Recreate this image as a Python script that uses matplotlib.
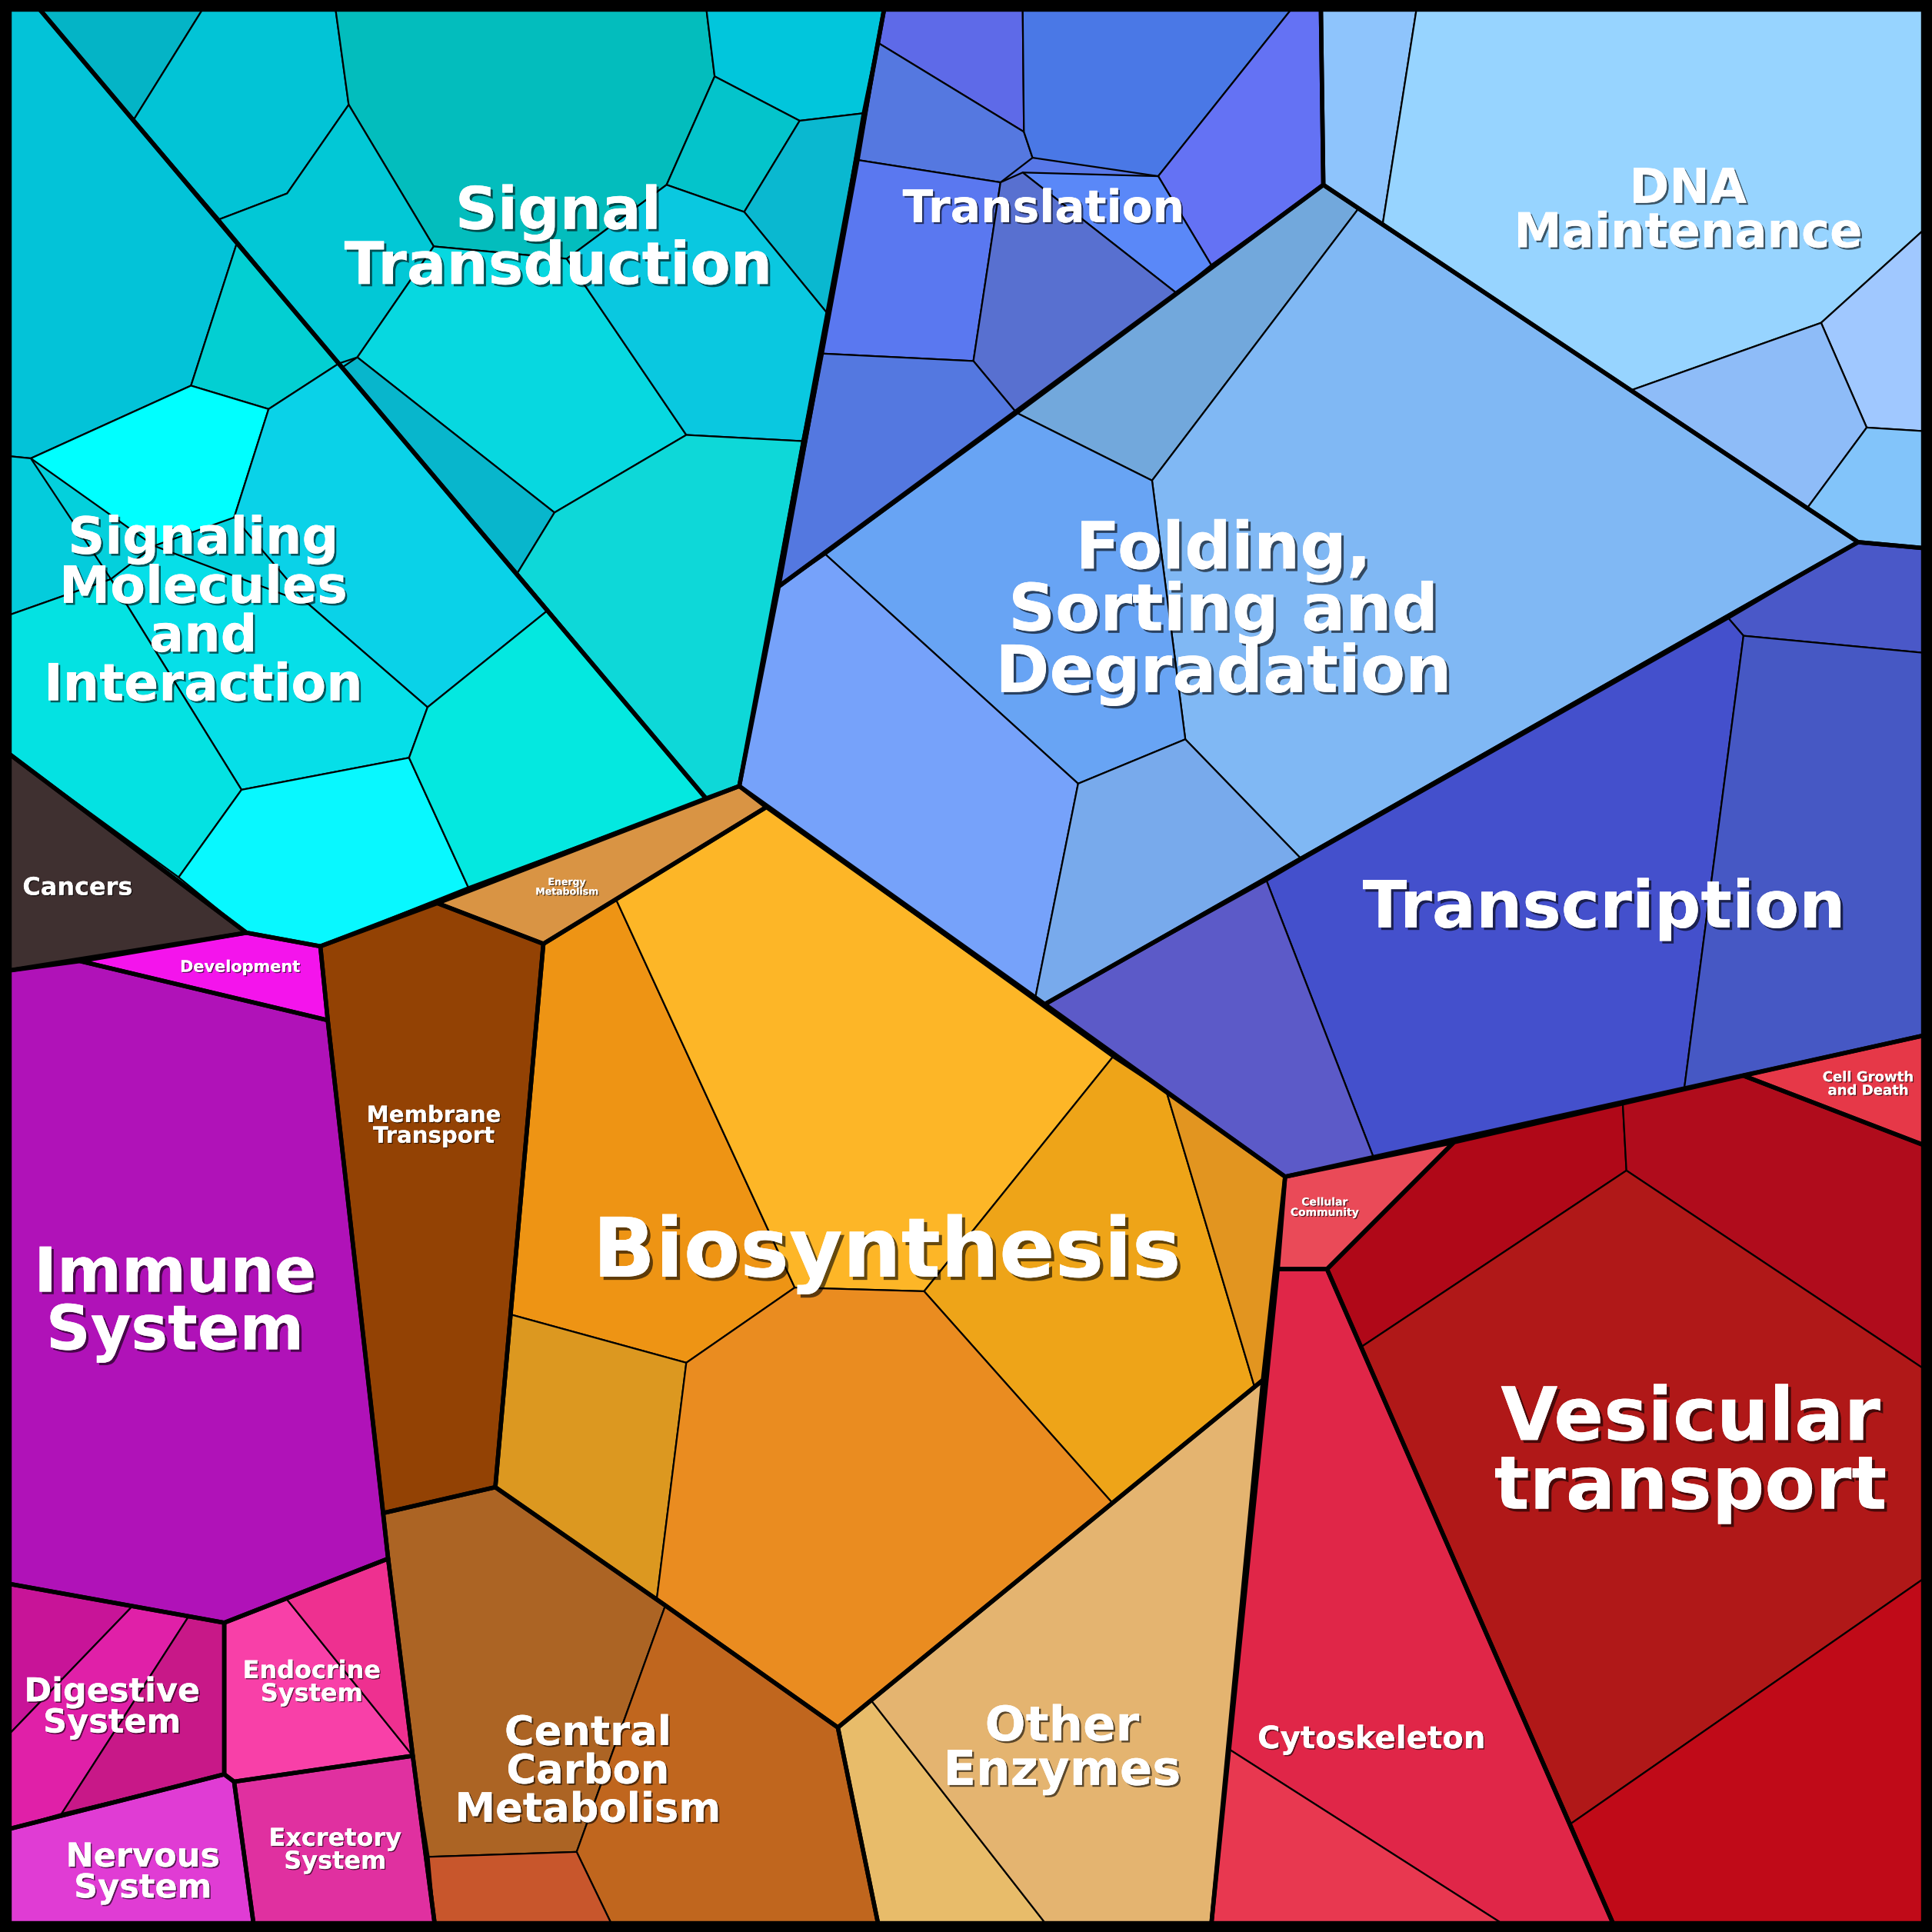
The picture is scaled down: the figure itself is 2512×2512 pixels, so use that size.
import matplotlib
matplotlib.use("Agg")
import matplotlib.pyplot as plt
from matplotlib.patches import Polygon
import matplotlib.patheffects as pe

# ---- data: top-level regions (category, polygon in picture units) ----
categories = ["Signaling\nMolecules\nand\nInteraction", "Signal\nTransduction", "Translation",
              "DNA\nMaintenance", "Folding,\nSorting and\nDegradation", "Transcription",
              "Energy\nMetabolism", "Membrane\nTransport", "Biosynthesis", "Other\nEnzymes",
              "Central\nCarbon\nMetabolism", "Cancers", "Development", "Immune\nSystem",
              "Digestive\nSystem", "Endocrine\nSystem", "Nervous\nSystem", "Excretory\nSystem",
              "Cell Growth\nand Death", "Cellular\nCommunity", "Vesicular\ntransport", "Cytoskeleton"]
region_polys = [
    [(5,5),(30,5),(573,648),(260,768),(200,757),(5,610)],
    [(30,5),(718,5),(600,638),(573,648)],
    [(718,5),(1072,5),(1074,150),(825,335),(632,476)],
    [(1072,5),(1563,5),(1563,445),(1508,440),(1074,150)],
    [(1074,150),(1508,440),(848,815),(600,638),(632,476)],
    [(1508,440),(1563,445),(1563,840),(1043,955),(848,815)],
    [(355,733),(600,638),(622,655),(441,766)],
    [(260,768),(355,733),(441,766),(402,1207),(311,1228),(266,828)],
    [(441,766),(622,655),(1043,955),(1025,1120),(680,1402),(540,1303),(402,1207)],
    [(1025,1120),(983,1563),(713,1563),(680,1402)],
    [(311,1228),(402,1207),(540,1303),(680,1402),(713,1563),(353,1563),(335,1425),(315,1265)],
    [(5,610),(200,757),(5,788)],
    [(65,780),(200,757),(260,768),(266,828)],
    [(5,788),(65,780),(266,828),(315,1265),(182,1317),(5,1285)],
    [(5,1285),(182,1317),(182,1440),(5,1485)],
    [(182,1317),(315,1265),(335,1425),(190,1446),(182,1440)],
    [(5,1485),(182,1440),(190,1446),(206,1563),(5,1563)],
    [(190,1446),(335,1425),(353,1563),(206,1563)],
    [(1415,873),(1563,840),(1563,930)],
    [(1043,955),(1180,927),(1077,1030),(1037,1030)],
    [(1180,927),(1415,873),(1563,930),(1563,1563),(1310,1563),(1077,1030)],
    [(1037,1030),(1077,1030),(1310,1563),(983,1563)],
]
region_colors = ["#04d0dc","#04c8d8","#5878e8","#97d4ff","#78b0f4","#4652c8",
                 "#d99444","#934204","#f0a020","#e4b470","#b06424","#3f3030","#f414ec","#b012b8",
                 "#d81a98","#f03ca0","#e03cd4","#e030a0","#e63848","#ea4a58","#b01818","#e02648"]
label_xy = [(165,497),(453,195),(847,170),(1370,172),(993,497),(1302,738),
            (460,720),(352,914),(720,1018),(862,1420),(477,1438),(63,721),(195,785),(142,1058),
            (91,1386),(253,1366),(116,1520),(272,1502),(1516,880),(1075,980),(1372,1180),(1113,1412)]
label_sizes = [48,55,42,45,61,61,9,21,77,45,38,23,15,58,31,23,31,23,13,10,69,29]

# sub-cells (polygon, colour)
sub_polys = [
    [(30,5),(166,5),(108,98)],
    [(166,5),(272,5),(283,85),(233,157),(178,178),(108,98)],
    [(272,5),(573,5),(580,62),(541,150),(460,210),(352,200),(283,85)],
    [(573,5),(718,5),(700,92),(649,98),(580,62)],
    [(580,62),(649,98),(604,172),(541,150)],
    [(649,98),(700,92),(672,255),(604,172)],
    [(178,178),(233,157),(283,85),(352,200),(290,290),(275,295)],
    [(352,200),(460,210),(557,353),(450,416),(290,290)],
    [(460,210),(541,150),(604,172),(672,255),(651,358),(557,353)],
    [(290,290),(450,416),(420,465),(278,298)],
    [(450,416),(557,353),(651,358),(600,638),(573,648),(420,465)],
    [(5,5),(30,5),(178,178),(192,198),(155,313),(25,372),(5,370)],
    [(192,198),(275,295),(218,332),(155,313)],
    [(155,313),(218,332),(190,420),(125,443),(25,372)],
    [(5,370),(25,372),(90,470),(5,500)],
    [(218,332),(275,295),(445,495),(347,574),(250,490),(190,420)],
    [(90,470),(125,443),(250,490),(347,574),(332,615),(196,641)],
    [(5,500),(90,470),(196,641),(145,712),(5,610)],
    [(196,641),(332,615),(380,720),(260,768),(200,757),(145,712)],
    [(347,574),(445,495),(573,648),(380,720),(332,615)],
    [(718,5),(830,5),(831,107),(713,35)],
    [(713,35),(831,107),(838,128),(812,148),(697,130)],
    [(830,5),(1050,5),(940,143),(838,128),(831,107)],
    [(1050,5),(1072,5),(1074,150),(983,215),(940,143)],
    [(697,130),(812,148),(790,293),(668,287)],
    [(830,140),(940,143),(983,215),(955,238)],
    [(812,148),(830,140),(955,238),(825,335),(790,293)],
    [(668,287),(790,293),(825,335),(632,476)],
    [(1072,5),(1150,5),(1122,183),(1074,150)],
    [(1150,5),(1563,5),(1563,185),(1478,262),(1323,317),(1122,183)],
    [(1563,185),(1563,350),(1515,347),(1478,262)],
    [(1323,317),(1478,262),(1515,347),(1467,412)],
    [(1467,412),(1515,347),(1563,350),(1563,445),(1508,440)],
    [(1074,150),(1102,170),(935,390),(825,335)],
    [(1102,170),(1323,317),(1467,412),(1508,440),(1057,698),(962,600),(935,390)],
    [(825,335),(935,390),(962,600),(875,636),(670,450)],
    [(632,476),(670,450),(875,636),(840,811),(600,638)],
    [(875,636),(962,600),(1057,698),(848,815),(840,811)],
    [(1508,440),(1563,445),(1563,530),(1415,516),(1403,502)],
    [(1403,502),(1415,516),(1367,883),(1115,940),(1028,715),(1057,698)],
    [(1415,516),(1563,530),(1563,840),(1367,883)],
    [(848,815),(1028,715),(1115,940),(1043,955)],
    [(441,766),(500,730),(645,1045),(557,1106),(415,1067)],
    [(500,730),(622,655),(903,858),(750,1048),(645,1045)],
    [(903,858),(947,887),(1018,1125),(903,1220),(750,1048)],
    [(947,887),(1043,955),(1025,1120),(1018,1125)],
    [(415,1067),(557,1106),(533,1298),(402,1207)],
    [(557,1106),(645,1045),(750,1048),(903,1220),(680,1402),(540,1303),(533,1298)],
    [(311,1228),(402,1207),(540,1303),(468,1503),(348,1507),(335,1425),(315,1265)],
    [(540,1303),(680,1402),(713,1563),(497,1563),(468,1503)],
    [(348,1507),(468,1503),(497,1563),(353,1563)],
    [(680,1402),(707,1380),(850,1563),(713,1563)],
    [(707,1380),(903,1220),(1025,1120),(983,1563),(850,1563)],
    [(5,1285),(108,1303),(5,1410)],
    [(108,1303),(153,1312),(50,1472),(5,1485),(5,1410)],
    [(153,1312),(182,1317),(182,1440),(50,1472)],
    [(182,1317),(232,1297),(335,1425),(190,1446),(182,1440)],
    [(232,1297),(315,1265),(335,1425)],
    [(1180,927),(1317,895),(1320,950),(1105,1093),(1077,1030)],
    [(1317,895),(1415,873),(1563,930),(1563,1112),(1320,950)],
    [(1105,1093),(1320,950),(1563,1112),(1563,1280),(1275,1480)],
    [(1275,1480),(1563,1280),(1563,1563),(1310,1563)],
    [(1037,1030),(1077,1030),(1310,1563),(1222,1563),(998,1420)],
    [(998,1420),(1222,1563),(983,1563)],
]
sub_colors = ["#04b4c6","#02c4d6","#03bdbd","#01c6dc","#04c4cb","#0ab8d0","#02c8d6","#07d8e0",
              "#0ac8e0","#08b6cc","#0ed8d8",
              "#03c3d8","#03cfd2","#00ffff","#04ccdc","#0ad2e8","#06dfe8","#04e2e2","#08f8ff","#04e8e0",
              "#5e6ae8","#5578e0","#4a78e6","#6472f4","#5a78f0","#5a88f8","#5870d0","#5478e0",
              "#8ec4fc","#97d4ff","#a0c8ff","#8ebcf8","#82c4fa",
              "#72a8dc","#80b8f4","#68a4f4","#76a2fa","#78aaec",
              "#4a58c8","#4450cc","#4658c4","#5c5ac8",
              "#ee9414","#fdb627","#eea418","#e29520","#dc9820","#ea8c20",
              "#ac6424","#c0661e","#c8562c","#e8bc6a","#e4b470",
              "#c81498","#e020a8","#c81888","#f840a8","#ee3090",
              "#b00818","#b00c1c","#b01818","#c00a18","#e02648","#e83850"]

fig = plt.figure(figsize=(25.12, 25.12), dpi=100)
ax = fig.add_axes([0, 0, 1, 1])
ax.set_xlim(0, 1568)
ax.set_ylim(1568, 0)
ax.axis("off")

for poly, c in zip(region_polys, region_colors):
    ax.add_patch(Polygon(poly, closed=True, facecolor=c, edgecolor="none", zorder=1))
for poly, c in zip(sub_polys, sub_colors):
    ax.add_patch(Polygon(poly, closed=True, facecolor=c, edgecolor="black", lw=1.6, zorder=2))
for poly in region_polys:
    ax.add_patch(Polygon(poly, closed=True, facecolor="none", edgecolor="black", lw=4, zorder=3,
                         joinstyle="round"))
ax.add_patch(Polygon([(3,3),(1565,3),(1565,1565),(3,1565)], closed=True, facecolor="none",
                     edgecolor="black", lw=14, zorder=4))

for name, (x, y), s in zip(categories, label_xy, label_sizes):
    sh = max(1.0, s / 25)
    ax.text(x, y, name, ha="center", va="center", color="white", fontsize=s,
            fontweight="bold", family="DejaVu Sans", linespacing=0.95, zorder=5,
            path_effects=[pe.withSimplePatchShadow(offset=(sh, -sh), shadow_rgbFace="black", alpha=0.6),
                          pe.Normal()])

fig.savefig("out.png", dpi=100)
